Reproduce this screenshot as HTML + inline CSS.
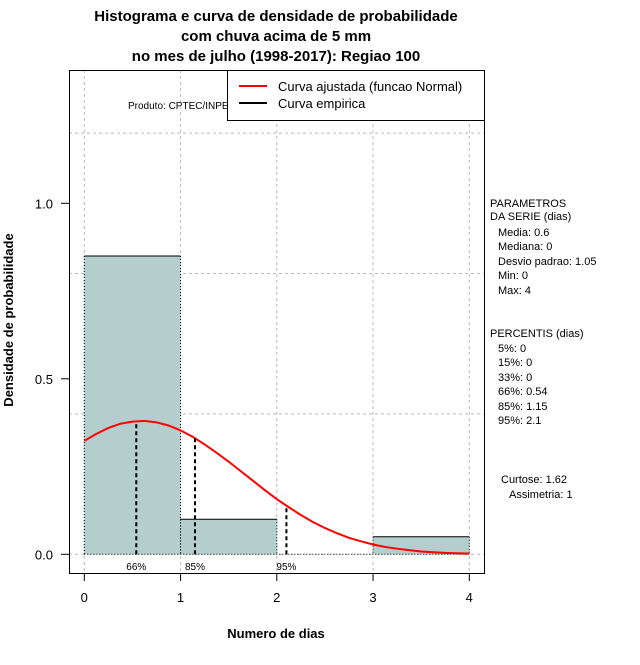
<!DOCTYPE html>
<html><head><meta charset="utf-8"><style>
body{margin:0;background:#fff;}
svg text{font-family:"Liberation Sans",sans-serif;}
</style></head><body>
<svg id="chart" width="640" height="660" xmlns="http://www.w3.org/2000/svg">
<g font-weight="bold" font-size="15" text-anchor="middle" fill="#000">
<text x="276" y="21">Histograma e curva de densidade de probabilidade</text>
<text x="276" y="41">com chuva acima de 5 mm</text>
<text x="276" y="61">no mes de julho (1998-2017): Regiao 100</text>
</g>
<g id="grid"></g>
<g id="bars"></g>
<g id="curve"></g>
<g id="pct"></g>
<rect x="69.5" y="70.5" width="415" height="503" fill="none" stroke="#000" stroke-width="1"/>
<g id="axes" font-size="13" fill="#000"></g>
<text x="276" y="638" text-anchor="middle" font-weight="bold" font-size="13">Numero de dias</text>
<text x="0" y="0" transform="translate(13,320) rotate(-90)" text-anchor="middle" font-weight="bold" font-size="13">Densidade de probabilidade</text>
<text x="128" y="109" font-size="10">Produto: CPTEC/INPE</text>
<g>
<rect x="227.5" y="70.5" width="257" height="50" fill="#fff" stroke="#000"/>
<line x1="239" y1="86" x2="267" y2="86" stroke="#f00" stroke-width="2"/>
<text x="278" y="91" font-size="13">Curva ajustada (funcao Normal)</text>
<line x1="239" y1="103" x2="267" y2="103" stroke="#000" stroke-width="2"/>
<text x="278" y="108" font-size="13">Curva empirica</text>
</g>
<g font-size="11" fill="#000">
<text x="490" y="207">PARAMETROS</text>
<text x="490" y="220">DA SERIE (dias)</text>
<text x="498" y="236">Media: 0.6</text>
<text x="498" y="250">Mediana: 0</text>
<text x="498" y="265">Desvio padrao: 1.05</text>
<text x="498" y="279">Min: 0</text>
<text x="498" y="294">Max: 4</text>
<text x="490" y="337">PERCENTIS (dias)</text>
<text x="498" y="352">5%: 0</text>
<text x="498" y="366">15%: 0</text>
<text x="498" y="381">33%: 0</text>
<text x="498" y="395">66%: 0.54</text>
<text x="498" y="410">85%: 1.15</text>
<text x="498" y="424">95%: 2.1</text>
<text x="501" y="483">Curtose: 1.62</text>
<text x="509" y="498">Assimetria: 1</text>
</g>
</svg>
<script>
const binStarts=[0,1,2,3];
const binDensity=[0.85,0.1,0,0.05];
const curveX=[0,0.125,0.25,0.375,0.5,0.625,0.75,0.875,1,1.125,1.25,1.375,1.5,1.625,1.75,1.875,2,2.125,2.25,2.375,2.5,2.625,2.75,2.875,3,3.125,3.25,3.375,3.5,3.625,3.75,3.875,4];
const curveY=[0.323,0.343,0.36,0.372,0.378,0.38,0.376,0.367,0.353,0.335,0.313,0.289,0.264,0.237,0.21,0.183,0.157,0.134,0.112,0.092,0.075,0.06,0.047,0.037,0.028,0.021,0.016,0.012,0.008,0.006,0.004,0.003,0.002];
const pctLabels=["66%","85%","95%"];
const pctX=[0.54,1.15,2.1];
const pctY=[0.377,0.331,0.138];
const xTicks=[0,1,2,3,4];
const yTicks=[0,0.5,1];
const yTickLabels=["0.0","0.5","1.0"];
const yGrid=[0,0.4,0.8,1.2];
const NS="http://www.w3.org/2000/svg";
const X=v=>84.3+v*96.25;
const Y=v=>554.3-v*351;
function mk(p,t,a){const e=document.createElementNS(NS,t);for(const k in a)e.setAttribute(k,a[k]);p.appendChild(e);return e;}
const grid=document.getElementById('grid');
xTicks.forEach(v=>{const l=mk(grid,'line',{x1:X(v),x2:X(v),y1:70,y2:573,stroke:'#bbb','stroke-dasharray':'3,3'});

});
yGrid.forEach(v=>{const l=mk(grid,'line',{x1:69,x2:484,y1:Y(v),y2:Y(v),stroke:'#bbb','stroke-dasharray':'3,3'});

});
const bars=document.getElementById('bars');
binStarts.forEach((s,i)=>{const h=binDensity[i];if(h<=0)return;
const r=mk(bars,'rect',{x:X(s),y:Y(h),width:X(s+1)-X(s),height:Y(0)-Y(h),fill:'#b4cdcd'});


mk(bars,'line',{x1:X(s),x2:X(s+1),y1:Y(h),y2:Y(h),stroke:'#000'});
mk(bars,'line',{x1:X(s),x2:X(s),y1:Y(h),y2:Y(0),stroke:'#000','stroke-dasharray':'1,2'});
mk(bars,'line',{x1:X(s+1),x2:X(s+1),y1:Y(h),y2:Y(0),stroke:'#000','stroke-dasharray':'1,2'});});
mk(bars,'line',{x1:X(0),x2:X(4),y1:Y(0),y2:Y(0),stroke:'#000','stroke-dasharray':'1,2'});
const cv=document.getElementById('curve');
const p=mk(cv,'path',{d:curveX.map((x,i)=>(i?'L':'M')+X(x)+','+Y(curveY[i])).join(''),fill:'none',stroke:'#f00','stroke-width':2});


const pg=document.getElementById('pct');
pctX.forEach((v,i)=>{const l=mk(pg,'line',{x1:X(v),x2:X(v),y1:Y(0),y2:Y(pctY[i]),stroke:'#000','stroke-width':2,'stroke-dasharray':'4,3'});


const t=mk(pg,'text',{x:X(v),y:570,'font-size':10,'text-anchor':'middle'});t.textContent=pctLabels[i];

});
const ax=document.getElementById('axes');
xTicks.forEach(v=>{mk(ax,'line',{x1:X(v),x2:X(v),y1:573,y2:581,stroke:'#000'});
const t=mk(ax,'text',{x:X(v),y:602,'text-anchor':'middle'});t.textContent=v;

});
yTicks.forEach((v,i)=>{mk(ax,'line',{x1:61,x2:69,y1:Y(v),y2:Y(v),stroke:'#000'});
const t=mk(ax,'text',{x:53,y:Y(v)+5,'text-anchor':'end'});t.textContent=yTickLabels[i];

});
</script>
</body></html>
